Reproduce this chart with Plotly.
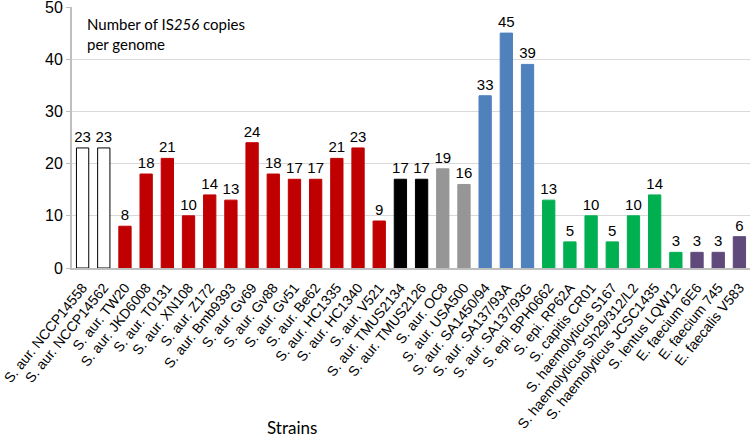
import plotly.graph_objects as go

strains = [
    "S. aur. NCCP14558", "S. aur. NCCP14562", "S. aur. TW20", "S. aur. JKD6008",
    "S. aur. T0131", "S. aur. XN108", "S. aur. Z172", "S. aur. Bmb9393",
    "S. aur. Gv69", "S. aur. Gv88", "S. aur. Gv51", "S. aur. Be62",
    "S. aur. HC1335", "S. aur. HC1340", "S. aur. V521", "S. aur. TMUS2134",
    "S. aur. TMUS2126", "S. aur. OC8", "S. aur. USA500", "S. aur. SA1450/94",
    "S. aur. SA137/93A", "S. aur. SA137/93G", "S. epi. BPH0662", "S. epi. RP62A",
    "S. capitis CR01", "S. haemolyticus S167", "S. haemolyticus Sh29/312/L2",
    "S. haemolyticus JCSC1435", "S. lentus LQW12", "E. faecium 6E6",
    "E. faecium 745", "E. faecalis V583",
]
copies = [23, 23, 8, 18, 21, 10, 14, 13, 24, 18, 17, 17, 21, 23, 9, 17,
          17, 19, 16, 33, 45, 39, 13, 5, 10, 5, 10, 14, 3, 3, 3, 6]
groups = (["white"] * 2 + ["red"] * 13 + ["black"] * 2 + ["gray"] * 2 +
          ["blue"] * 3 + ["green"] * 7 + ["purple"] * 3)

fill = {"white": "#FFFFFF", "red": "#C00000", "black": "#000000", "gray": "#969696",
        "blue": "#4F81BD", "green": "#00B050", "purple": "#604A7B"}
outline = {"white": "#000000"}

fig = go.Figure(go.Bar(
    x=strains, y=copies,
    marker=dict(color=[fill[g] for g in groups],
                line=dict(color=[outline.get(g, fill[g]) for g in groups], width=1)),
    text=[str(v) for v in copies], textposition="outside", cliponaxis=False,
    textangle=0, constraintext="none",
    textfont=dict(family="Liberation Sans, Arial", size=15, color="#000000"),
    width=0.58,
))

fig.update_layout(
    width=750, height=437,
    margin=dict(l=72, r=0, t=7, b=169),
    plot_bgcolor="white", paper_bgcolor="white",
    showlegend=False,
    font=dict(family="Liberation Sans, Arial", color="#000000"),
    xaxis=dict(tickangle=-51, tickfont=dict(size=14), showline=True,
               linecolor="#BFBFBF", linewidth=2, ticks="", showgrid=False,
               ticklabelstandoff=4, automargin=False, ticklabeloverflow="allow"),
    yaxis=dict(range=[0, 50], dtick=10, tickfont=dict(size=16), showline=True,
               linecolor="#BFBFBF", linewidth=2, gridcolor="#D9D9D9", gridwidth=1,
               zeroline=False, ticks="outside", ticklen=4, tickcolor="#BFBFBF",
               automargin=False, ticklabeloverflow="allow"),
    annotations=[
        dict(text="Number of IS<i>256</i> copies<br>per genome", xref="paper", yref="paper",
             x=0.019, y=0.977, xanchor="left", yanchor="top", align="left", showarrow=False,
             font=dict(family="Lato, Open Sans", size=15, color="#000000")),
        dict(text="Strains", xref="paper", yref="paper", x=0.3245, y=-0.612,
             xanchor="center", yanchor="middle", showarrow=False,
             font=dict(family="Lato, Open Sans", size=17, color="#000000")),
    ],
)

fig.write_html("out.html", config={"displayModeBar": False},
               post_script="document.body.style.margin='0';")
